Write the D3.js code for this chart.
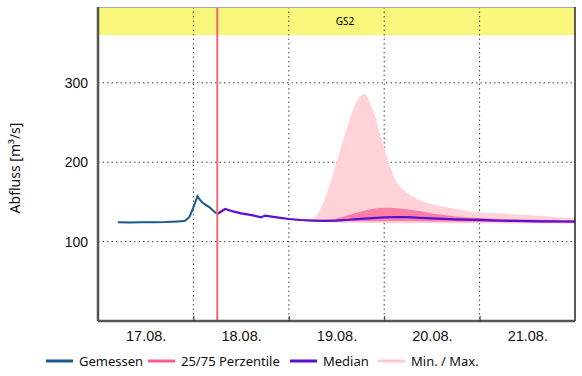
<!DOCTYPE html>
<html>
<head>
<meta charset="utf-8">
<script src="https://cdn.jsdelivr.net/npm/d3@7"></script>
<style>
  body { margin: 0; background: #fff; }
  svg { display: block; font-family: "Noto Sans", "Open Sans", sans-serif; }
</style>
</head>
<body>
<div id="chart"></div>
<script>
// hours after 17.08. 00:00
var measuredHours = [5, 8, 11, 14, 17, 20, 21, 22, 23, 24, 25, 26, 27, 28, 29, 30];
var measuredValues = [124.3, 124.2, 124.5, 124.5, 124.6, 125.2, 125.5, 126.5, 131, 143, 157, 150.5, 146.5, 143.5, 139, 134.8];

var forecastHours = [30, 32, 34, 36, 39, 41, 42, 45, 48, 51, 54, 57, 60, 63, 65, 67, 69, 72, 75, 78, 81, 84, 87, 90, 93, 96, 99, 102, 105, 108, 111, 114, 117, 120];
var medianValues = [134.8, 141, 138, 135.5, 133, 130.5, 132.8, 130.5, 128.5, 127.2, 126.5, 126, 126.5, 127.5, 128.4, 129, 129.5, 130.5, 131, 130.8, 130, 129.3, 128.6, 128, 127.6, 127.3, 126.8, 126.3, 126, 125.8, 125.6, 125.5, 125.3, 125.2];
var p25Values = [134.8, 140.5, 137.5, 135, 132.5, 130.2, 132, 130, 128, 126.5, 125.8, 125.5, 125.5, 125.5, 125.5, 125.5, 125.6, 125.7, 125.8, 125.7, 125.5, 125.3, 125.2, 125, 124.9, 124.8, 124.6, 124.5, 124.3, 124.2, 124, 123.9, 123.8, 123.7];
var p75Values = [135, 141.5, 138.5, 136, 133.5, 131, 133.3, 131, 129, 127.8, 127.2, 127.5, 129, 133.5, 136.5, 139, 141, 142.5, 142, 140.5, 138.5, 135.5, 133.5, 131.5, 130.5, 129.8, 129, 128.5, 128, 127.8, 127.6, 127.5, 127.3, 127.2];
var minValues = [134.5, 140.3, 137.3, 134.8, 132.3, 130, 131.8, 129.8, 127.8, 126.2, 125.2, 124.6, 124.2, 123.8, 123.6, 123.4, 123.3, 123.2, 123.2, 123.2, 123.2, 123.1, 123.1, 123, 123, 123, 123, 122.9, 122.9, 122.9, 122.8, 122.8, 122.8, 122.8];
var maxValues = [135.5, 141.8, 139, 136.5, 134, 131.5, 133.6, 131.5, 129.5, 128.5, 129.5, 153, 200, 249, 276, 286, 268, 218, 176, 161, 152, 147, 144, 141, 138.5, 137, 136, 135.3, 134.5, 133.5, 132.5, 131.3, 130.3, 129.3];

var dayLabels = ["17.08.", "18.08.", "19.08.", "20.08.", "21.08."];
var yTicks = [100, 200, 300];
var nowHour = 30;
var bandLabel = "GS2";

var legendItems = [
  { label: "Gemessen", color: "#16598a" },
  { label: "25/75 Perzentile", color: "#fb5b8e" },
  { label: "Median", color: "#5a0fd2" },
  { label: "Min. / Max.", color: "#ffc9cd" }
];

var width = 582, height = 376;
var margin = { left: 98, right: 7, top: 7, bottom: 55 };
var bandHeight = 28;

var start = new Date(2023, 7, 17, 0, 0);
function toDate(h) { return new Date(start.getTime() + h * 3600000); }

var svg = d3.select("#chart").append("svg")
  .attr("width", width)
  .attr("height", height);

var x = d3.scaleTime()
  .domain([start, toDate(24 * 5)])
  .range([margin.left, width - margin.right]);

var y = d3.scaleLinear()
  .domain([0, 395.5])
  .range([height - margin.bottom, margin.top]);

var plotTop = margin.top, plotBottom = height - margin.bottom;
var plotLeft = margin.left, plotRight = width - margin.right;

// yellow band on top
svg.append("rect")
  .attr("x", plotLeft).attr("y", plotTop)
  .attr("width", plotRight - plotLeft).attr("height", bandHeight)
  .attr("fill", "#f9f67c");

svg.append("text")
  .attr("x", 345).attr("y", plotTop + bandHeight / 2 + 4)
  .attr("text-anchor", "middle")
  .style("font-size", "10px")
  .text(bandLabel);

// grid
var midnights = d3.range(1, 5).map(function(d) { return toDate(d * 24); });
svg.append("g").selectAll("line").data(midnights).join("line")
  .attr("x1", function(d) { return x(d); }).attr("x2", function(d) { return x(d); })
  .attr("y1", plotTop).attr("y2", plotBottom)
  .attr("stroke", "#444").attr("stroke-width", 1)
  .attr("stroke-dasharray", "1.5,3");

svg.append("g").selectAll("line").data(yTicks).join("line")
  .attr("x1", plotLeft).attr("x2", plotRight)
  .attr("y1", function(d) { return y(d); }).attr("y2", function(d) { return y(d); })
  .attr("stroke", "#444").attr("stroke-width", 1)
  .attr("stroke-dasharray", "1.5,3");

// min / max band
var fc = forecastHours.map(function(h, i) {
  return { t: toDate(h), med: medianValues[i], p25: p25Values[i], p75: p75Values[i], min: minValues[i], max: maxValues[i] };
});

svg.append("path")
  .datum(fc)
  .attr("fill", "#ffd3d7")
  .attr("d", d3.area()
    .x(function(d) { return x(d.t); })
    .y0(function(d) { return y(d.min); })
    .y1(function(d) { return y(d.max); })
    .curve(d3.curveMonotoneX));

svg.append("path")
  .datum(fc)
  .attr("fill", "#fb7ea6")
  .attr("d", d3.area()
    .x(function(d) { return x(d.t); })
    .y0(function(d) { return y(d.p25); })
    .y1(function(d) { return y(d.p75); })
    .curve(d3.curveMonotoneX));

svg.append("path")
  .datum(fc)
  .attr("fill", "none")
  .attr("stroke", "#5a0fd2")
  .attr("stroke-width", 2.2)
  .attr("d", d3.line()
    .x(function(d) { return x(d.t); })
    .y(function(d) { return y(d.med); }));

var measured = measuredHours.map(function(h, i) { return { t: toDate(h), v: measuredValues[i] }; });
svg.append("path")
  .datum(measured)
  .attr("fill", "none")
  .attr("stroke", "#16598a")
  .attr("stroke-width", 2)
  .attr("d", d3.line()
    .x(function(d) { return x(d.t); })
    .y(function(d) { return y(d.v); }));

// now line
svg.append("line")
  .attr("x1", x(toDate(nowHour))).attr("x2", x(toDate(nowHour)))
  .attr("y1", plotTop).attr("y2", plotBottom)
  .attr("stroke", "#ee6a74").attr("stroke-width", 2);

// frame
svg.append("line")
  .attr("x1", plotLeft).attr("x2", plotRight).attr("y1", plotTop + 0.5).attr("y2", plotTop + 0.5)
  .attr("stroke", "#aaa").attr("stroke-width", 1);
svg.append("line")
  .attr("x1", plotRight).attr("x2", plotRight).attr("y1", plotTop).attr("y2", plotBottom)
  .attr("stroke", "#222").attr("stroke-width", 1.5);

// axes
var yAxis = svg.append("g")
  .attr("transform", "translate(" + plotLeft + ",0)")
  .call(d3.axisLeft(y).tickValues(yTicks).tickSize(0).tickPadding(10));
yAxis.select(".domain").attr("stroke", "#555").attr("stroke-width", 2.5)
  .attr("d", "M0," + plotTop + "V" + plotBottom);
yAxis.selectAll("text").style("font-size", "14px").attr("fill", "#111");

var xAxis = svg.append("g")
  .attr("transform", "translate(0," + plotBottom + ")")
  .call(d3.axisBottom(x).tickValues(midnights).tickSize(-5).tickFormat(""));
xAxis.select(".domain").attr("stroke", "#555").attr("stroke-width", 2.5)
  .attr("d", "M" + plotLeft + ",0H" + plotRight);
xAxis.selectAll(".tick line").attr("stroke", "#333");

var noons = dayLabels.map(function(d, i) { return toDate(i * 24 + 12); });
var xLabels = svg.append("g")
  .attr("transform", "translate(0," + plotBottom + ")")
  .call(d3.axisBottom(x).tickValues(noons).tickSize(0).tickPadding(10)
    .tickFormat(function(d, i) { return dayLabels[i]; }));
xLabels.select(".domain").remove();
xLabels.selectAll("text").style("font-size", "14.5px").attr("fill", "#111");

// y label
svg.append("text")
  .attr("transform", "translate(20," + ((plotTop + plotBottom) / 2 + 4) + ") rotate(-90)")
  .attr("text-anchor", "middle")
  .style("font-size", "14px")
  .attr("fill", "#111")
  .text("Abfluss [m³/s]");

// legend
var legendX = [46, 148, 290, 378];
var legend = svg.append("g").attr("transform", "translate(0,361)");
legendItems.forEach(function(item, i) {
  var g = legend.append("g").attr("transform", "translate(" + legendX[i] + ",0)");
  g.append("line").attr("x1", 0).attr("x2", 27).attr("y1", 0).attr("y2", 0)
    .attr("stroke", item.color).attr("stroke-width", 3);
  g.append("text").attr("x", 33).attr("y", 4.5)
    .style("font-size", "13px").attr("fill", "#111")
    .text(item.label);
});
</script>
</body>
</html>
